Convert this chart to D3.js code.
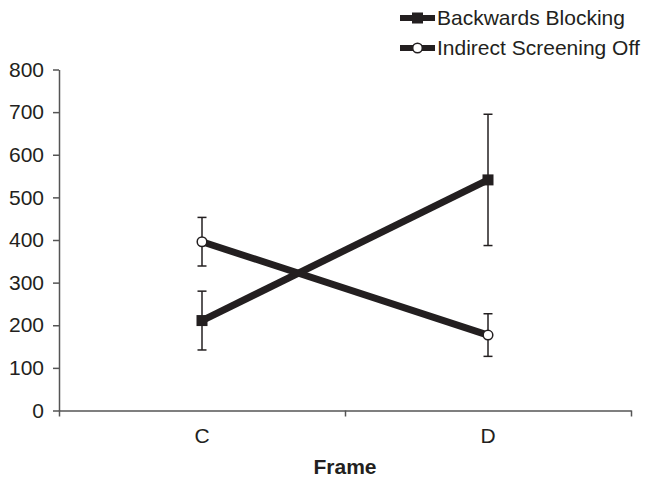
<!DOCTYPE html>
<html>
<head>
<meta charset="utf-8">
<script src="https://cdn.jsdelivr.net/npm/d3@7"></script>
<style>
  body { margin: 0; background: #fff; }
  svg { display: block; font-family: "Liberation Sans", Arial, sans-serif; }
</style>
</head>
<body>
<svg id="chart"></svg>
<script>
// Data
const categories = ['C', 'D'];
const seriesNames = ['Backwards Blocking', 'Indirect Screening Off'];
const blockingMean = [211, 541];
const blockingErr = [69, 154];
const screeningMean = [396, 177];
const screeningErr = [57, 50];
const yTicks = [0, 100, 200, 300, 400, 500, 600, 700, 800];

const svgWidth = 651;
const svgHeight = 477;
const ink = '#231f20';
const axisColor = '#555';

const svg = d3.select('#chart')
  .attr('width', svgWidth)
  .attr('height', svgHeight);

// Scales
const xScale = d3.scaleBand().domain(categories).range([59, 631]);
const xEdges = d3.scaleLinear().domain([0, categories.length]).range([59, 631]);
const yScale = d3.scaleLinear().domain([0, 800]).range([410.5, 69.5]);

// Y axis
const yAxis = svg.append('g')
  .attr('transform', `translate(${xScale.range()[0]},0)`)
  .call(d3.axisLeft(yScale).tickValues(yTicks).tickSize(6).tickSizeOuter(0).tickPadding(9));
yAxis.select('.domain').attr('stroke', axisColor).attr('stroke-width', 1.5);
yAxis.selectAll('.tick line').attr('stroke', axisColor).attr('stroke-width', 1.5);
yAxis.selectAll('.tick text')
  .attr('fill', ink)
  .attr('font-size', 21)
  .attr('font-family', '"Liberation Sans", Arial, sans-serif');

// X axis: ticks at category boundaries
const xAxis = svg.append('g')
  .attr('transform', `translate(0,${yScale(0)})`)
  .call(d3.axisBottom(xEdges).tickValues(d3.range(categories.length + 1)).tickFormat('').tickSize(6).tickSizeOuter(0));
xAxis.select('.domain').attr('stroke', axisColor).attr('stroke-width', 1.5);
xAxis.selectAll('.tick line').attr('stroke', axisColor).attr('stroke-width', 1.5);

// Category labels
const xLabels = svg.append('g')
  .attr('transform', `translate(0,${yScale(0)})`)
  .call(d3.axisBottom(xScale).tickSize(0).tickPadding(18));
xLabels.select('.domain').remove();
xLabels.selectAll('.tick text')
  .attr('fill', ink)
  .attr('font-size', 21)
  .attr('font-family', '"Liberation Sans", Arial, sans-serif');

// Axis title
svg.append('text')
  .attr('x', xEdges(1))
  .attr('y', 474)
  .attr('text-anchor', 'middle')
  .attr('font-size', 21)
  .attr('font-weight', 'bold')
  .attr('fill', ink)
  .text('Frame');

const cx = (d) => xScale(d) + xScale.bandwidth() / 2;

const series = [
  { name: seriesNames[0], mean: blockingMean, err: blockingErr, marker: 'square' },
  { name: seriesNames[1], mean: screeningMean, err: screeningErr, marker: 'circle' }
];

const line = d3.line()
  .x((d) => cx(d.cat))
  .y((d) => yScale(d.value));

series.forEach((s) => {
  const pts = categories.map((c, i) => ({ cat: c, value: s.mean[i], err: s.err[i] }));

  // Error bars
  const eb = svg.append('g').attr('stroke', ink).attr('stroke-width', 1.5);
  pts.forEach((p) => {
    const x = cx(p.cat);
    const yHi = yScale(p.value + p.err);
    const yLo = yScale(p.value - p.err);
    eb.append('line').attr('x1', x).attr('x2', x).attr('y1', yHi).attr('y2', yLo);
    eb.append('line').attr('x1', x - 4.5).attr('x2', x + 4.5).attr('y1', yHi).attr('y2', yHi);
    eb.append('line').attr('x1', x - 4.5).attr('x2', x + 4.5).attr('y1', yLo).attr('y2', yLo);
  });

  // Line
  svg.append('path')
    .datum(pts)
    .attr('fill', 'none')
    .attr('stroke', ink)
    .attr('stroke-width', 7)
    .attr('d', line);

  // Markers
  pts.forEach((p) => drawMarker(svg, s.marker, cx(p.cat), yScale(p.value)));
});

function drawMarker(g, type, x, y) {
  if (type === 'square') {
    g.append('rect')
      .attr('x', x - 5.5).attr('y', y - 5.5)
      .attr('width', 11).attr('height', 11)
      .attr('fill', ink);
  } else {
    g.append('circle')
      .attr('cx', x).attr('cy', y).attr('r', 4.8)
      .attr('fill', '#fff')
      .attr('stroke', ink)
      .attr('stroke-width', 1.5);
  }
}

// Legend
const legend = svg.append('g');
series.forEach((s, i) => {
  const y = 18 + i * 30;
  legend.append('line')
    .attr('x1', 400).attr('x2', 435)
    .attr('y1', y).attr('y2', y)
    .attr('stroke', ink).attr('stroke-width', 6);
  drawMarker(legend, s.marker, 417.5, y);
  legend.append('text')
    .attr('x', 437)
    .attr('y', y)
    .attr('dy', '0.35em')
    .attr('font-size', 21)
    .attr('fill', ink)
    .text(s.name);
});
</script>
</body>
</html>
